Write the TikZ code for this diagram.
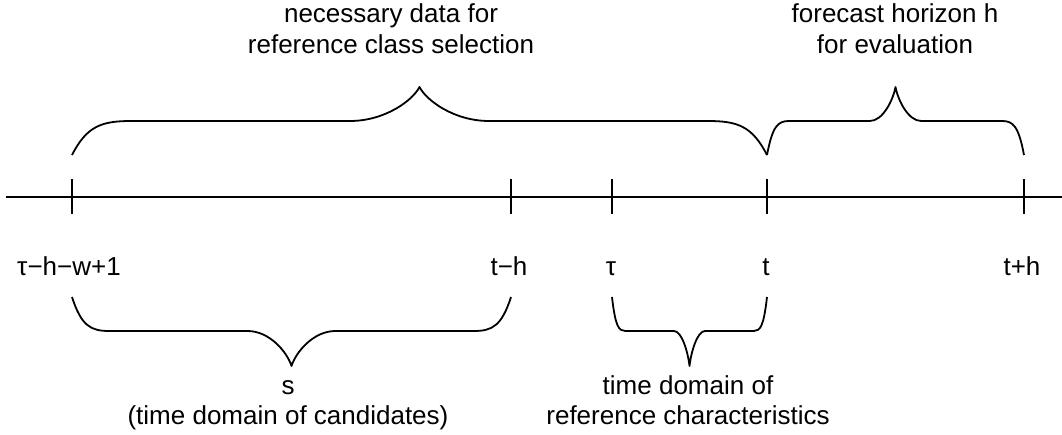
\documentclass[tikz,border=0pt]{standalone}
\usepackage{fontspec}
\setmainfont{Liberation Sans}
\newcommand{\curlybrace}[5]{%
  \pgfmathsetmacro\bw{#2-#1}%
  \pgfmathsetmacro\bm{(#1+#2)/2}%
  \pgfmathsetmacro\be{0.085*\bw}%
  \pgfmathsetmacro\bt{0.1*\bw}%
  \draw[bracestyle] (#1,#3)
    .. controls ({#1+0.25*\be},{#4+0.15*(#3-#4)}) and ({#1+0.5*\be},#4) .. ({#1+\be},#4)
    -- ({\bm-\bt},#4)
    .. controls ({\bm-0.5*\bt},#4) and ({\bm-0.1*\bt},{#5+0.4*(#4-#5)}) .. (\bm,#5)
    .. controls ({\bm+0.1*\bt},{#5+0.4*(#4-#5)}) and ({\bm+0.5*\bt},#4) .. ({\bm+\bt},#4)
    -- ({#2-\be},#4)
    .. controls ({#2-0.5*\be},#4) and ({#2-0.25*\be},{#4+0.15*(#3-#4)}) .. (#2,#3);%
}
\begin{document}
\begin{tikzpicture}[x=1pt,y=-1pt,line width=1.8pt,
  bracestyle/.style={line width=1.8pt,line join=round},
  lbl/.style={font=\fontsize{26}{31}\selectfont,anchor=base,inner sep=0pt}]
\useasboundingbox (0,0) rectangle (1062,434);
% axis
\coordinate (axL) at (6,197);
\coordinate (axR) at (1062,197);
\draw (axL) -- (axR);
\foreach \n/\x in {a/72,b/511,c/612,d/767,e/1024}{
  \coordinate (\n) at (\x,197);
  \draw (\x,179) -- (\x,214);
}
% tick labels
\node[lbl] (la) at (69,275) {τ−h−w+1};
\node[lbl] (lb) at (509,275) {t−h};
\node[lbl] (lc) at (611,275) {τ};
\node[lbl] (ld) at (766,275) {t};
\node[lbl] (le) at (1022,275) {t+h};
% braces
\curlybrace{72}{767}{155}{121}{87}
\curlybrace{767}{1024}{155}{121}{87}
\curlybrace{72}{511}{297}{331}{366}
\curlybrace{612}{767}{297}{331}{366}
% brace labels
\node[lbl] (t1a) at (391,22) {necessary data for};
\node[lbl] (t1b) at (391,53) {reference class selection};
\node[lbl] (t2a) at (895,22) {forecast horizon h};
\node[lbl] (t2b) at (895,53) {for evaluation};
\node[lbl] (b1a) at (288,394) {s};
\node[lbl] (b1b) at (288,424) {(time domain of candidates)};
\node[lbl] (b2a) at (688,394) {time domain of};
\node[lbl] (b2b) at (688,424) {reference characteristics};
\end{tikzpicture}
\end{document}
